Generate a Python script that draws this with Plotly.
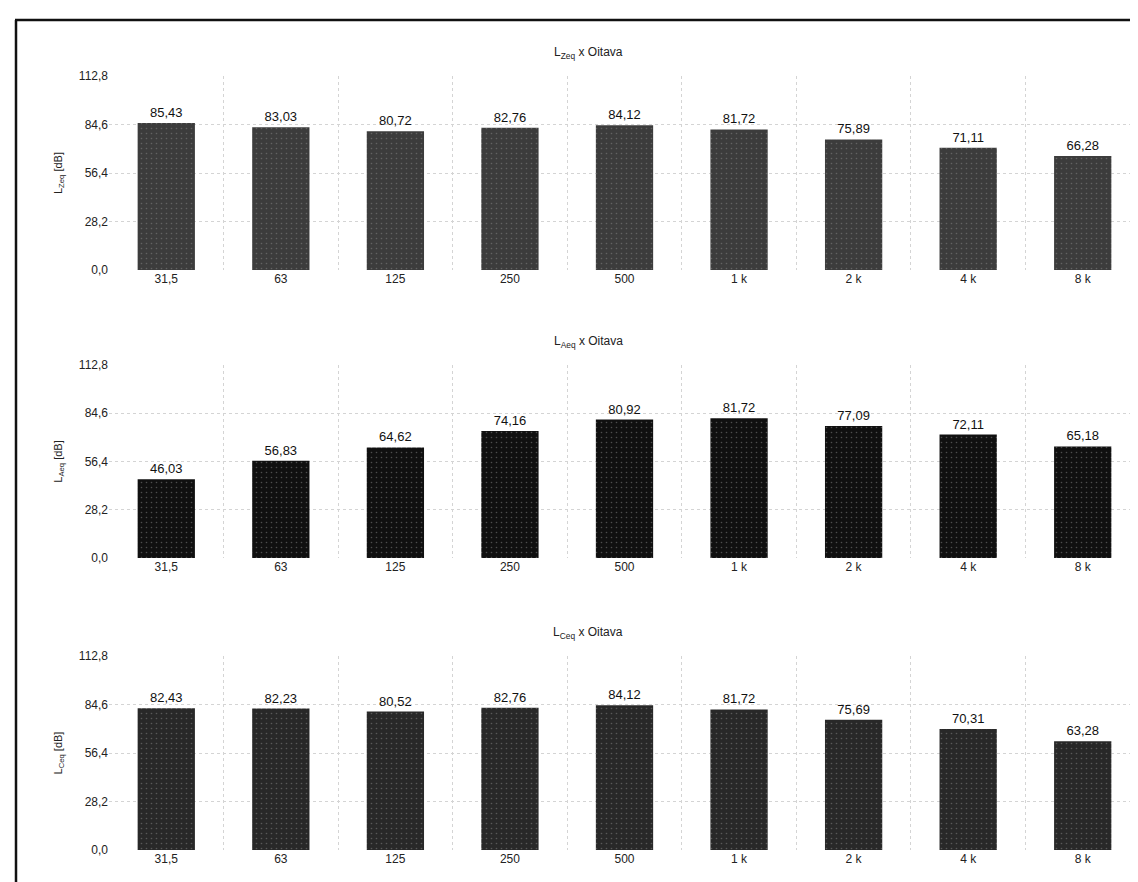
import plotly.graph_objects as go

categories = ["31,5", "63", "125", "250", "500", "1 k", "2 k", "4 k", "8 k"]
lzeq = [85.43, 83.03, 80.72, 82.76, 84.12, 81.72, 75.89, 71.11, 66.28]
laeq = [46.03, 56.83, 64.62, 74.16, 80.92, 81.72, 77.09, 72.11, 65.18]
lceq = [82.43, 82.23, 80.52, 82.76, 84.12, 81.72, 75.69, 70.31, 63.28]
ytick_vals = [0, 28.2, 56.4, 84.6, 112.8]
ytick_text = ["0,0", "28,2", "56,4", "84,6", "112,8"]
titles = ["L<sub>Zeq</sub> x Oitava", "L<sub>Aeq</sub> x Oitava", "L<sub>Ceq</sub> x Oitava"]
ylabels = ["L<sub>Zeq</sub> [dB]", "L<sub>Aeq</sub> [dB]", "L<sub>Ceq</sub> [dB]"]

W, H = 1138, 882
ML, MR, MT, MB = 101, 6, 68, 40
PW, PH = W - ML - MR, H - MT - MB

def py(pix):
    return (H - MB - pix) / PH

def px(pix):
    return (pix - ML) / PW

series = [lzeq, laeq, lceq]
colors = ["#3c3c3c", "#101010", "#282828"]
# pixel extents (top, bottom) of each panel
panels = [(68, 262), (357, 550), (648, 842)]
title_y = [45, 334, 625]

FONT = "Liberation Sans, Arial, sans-serif"
fig = go.Figure()
layout = dict(
    width=W, height=H,
    margin=dict(l=ML, r=MR, t=MT, b=MB),
    paper_bgcolor="white", plot_bgcolor="white",
    showlegend=False,
    font=dict(family=FONT, size=12, color="#222"),
    bargap=0.5,
)
annotations = []
for i, (vals, col) in enumerate(zip(series, colors)):
    xa = "x" if i == 0 else f"x{i+1}"
    ya = "y" if i == 0 else f"y{i+1}"
    fig.add_trace(go.Bar(
        x=categories, y=vals, xaxis=xa, yaxis=ya,
        marker=dict(color=col, line=dict(width=0),
                    pattern=dict(shape=".", fgcolor="#8a8a8a", size=5, solidity=0.08)),
        text=[f"{v:.2f}".replace(".", ",") for v in vals],
        textposition="outside", cliponaxis=False,
        textfont=dict(family=FONT, size=13, color="#111"),
        width=0.5,
    ))
    top, bot = panels[i]
    xkey = "xaxis" if i == 0 else f"xaxis{i+1}"
    ykey = "yaxis" if i == 0 else f"yaxis{i+1}"
    layout[xkey] = dict(
        domain=[0, 1], anchor=ya, type="category",
        tickson="boundaries", showgrid=True, gridcolor="#d4d4d4",
        griddash="dot", gridwidth=1, ticks="", showline=False,
        tickfont=dict(family=FONT, size=12, color="#222"),
        zeroline=False,
    )
    if i > 0:
        layout[xkey]["matches"] = "x"
    layout[ykey] = dict(
        domain=[py(bot), py(top)], anchor=xa,
        range=[0, 112.8], tickvals=ytick_vals, ticktext=ytick_text,
        showgrid=True, gridcolor="#d4d4d4", griddash="dot", gridwidth=1,
        zeroline=False, showline=False, ticks="",
        tickfont=dict(family=FONT, size=12, color="#222"),
        title=dict(text=ylabels[i], font=dict(family=FONT, size=11, color="#222"), standoff=14),
    )
    annotations.append(dict(
        text=titles[i], xref="paper", yref="paper",
        x=px(580), y=py(title_y[i]), showarrow=False,
        font=dict(family=FONT, size=12, color="#222"),
        xanchor="center", yanchor="middle",
    ))

layout["annotations"] = annotations
layout["shapes"] = [
    dict(type="line", xref="paper", yref="paper",
         x0=px(8), x1=px(8), y0=py(12), y1=py(H + 5),
         line=dict(color="#111", width=2.5)),
    dict(type="line", xref="paper", yref="paper",
         x0=px(7), x1=px(W + 5), y0=py(12), y1=py(12),
         line=dict(color="#111", width=2.5)),
]
fig.update_layout(**layout)
fig.write_html("out.html")
